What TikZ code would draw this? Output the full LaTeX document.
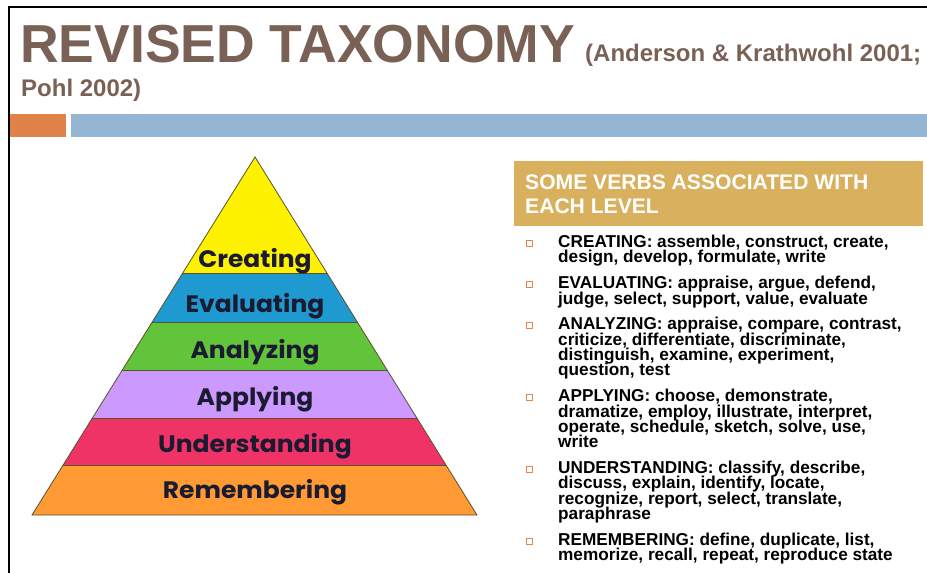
\documentclass[tikz,border=0pt]{standalone}
\usepackage{fontspec}
\setmainfont{Liberation Sans}
\newfontfamily\gothic[FakeStretch=1.05]{Poppins}
\definecolor{titlec}{HTML}{7A6156}
\definecolor{orangebar}{HTML}{E0824A}
\definecolor{bluebar}{HTML}{94B6D3}
\definecolor{goldc}{HTML}{D9B15E}
\definecolor{bulletc}{HTML}{E0884A}
\definecolor{pyrline}{HTML}{5A5030}
\definecolor{lyellow}{HTML}{FFF200}
\definecolor{lblue}{HTML}{1E9AD0}
\definecolor{lgreen}{HTML}{62C43A}
\definecolor{lpurple}{HTML}{CC99FF}
\definecolor{lpink}{HTML}{F03366}
\definecolor{lorange}{HTML}{FF9A35}
\definecolor{lbltext}{HTML}{1A1A30}
\tikzset{
  titletext/.style={anchor=base west, inner sep=0pt, text=titlec, font=\bfseries\fontsize{53.5}{53.5}\selectfont},
  subtext/.style={anchor=base west, inner sep=0pt, text=titlec, font=\bfseries\fontsize{24}{24}\selectfont},
  hdrtext/.style={anchor=base west, inner sep=0pt, text=white, font=\bfseries\fontsize{21.1}{21.1}\selectfont},
  itemtext/.style={anchor=base west, inner sep=0pt, text=black, font=\bfseries\fontsize{17.2}{17.2}\selectfont},
  bulletsq/.style={draw=bulletc, line width=0.7pt, minimum size=6pt, inner sep=0pt, rectangle},
  lvltext/.style={anchor=base, inner sep=0pt, text=lbltext, font=\gothic\bfseries\fontsize{23.8}{23.8}\selectfont},
}
\begin{document}
\begin{tikzpicture}[x=1pt,y=-1pt]
\useasboundingbox (0,0) rectangle (927,573);
\fill[white] (0,0) rectangle (927,573);
% frame
\draw[line width=2pt] (9,573) -- (9,7) -- (927,7);
% title
\node[titletext] (title) at (20,62) {REVISED TAXONOMY};
\node[subtext] (sub1) at (585,61) {(Anderson \& Krathwohl 2001;};
\node[subtext] (sub2) at (21,96) {Pohl 2002)};
% bars
\fill[orangebar] (10,114) rectangle (66,137);
\fill[bluebar] (71,114) rectangle (927,137);
% pyramid
\coordinate (apex) at (255,157);
\coordinate (bl) at (32,515);
\coordinate (br) at (477,515);
\begin{scope}
\clip (apex) -- (br) -- (bl) -- cycle;
\fill[lyellow] (0,150) rectangle (500,273);
\fill[lblue] (0,273) rectangle (500,322);
\fill[lgreen] (0,322) rectangle (500,370);
\fill[lpurple] (0,370) rectangle (500,418);
\fill[lpink] (0,418) rectangle (500,465);
\fill[lorange] (0,465) rectangle (500,516);
\foreach \yy in {273,322,370,418,465}
  \draw[pyrline, line width=0.8pt] (0,\yy) -- (500,\yy);
\end{scope}
\draw[pyrline, line width=0.8pt, line join=miter] (apex) -- (br) -- (bl) -- cycle;
\node[lvltext] (creating) at (255,267) {Creating};
\node[lvltext] (evaluating) at (255,312) {Evaluating};
\node[lvltext] (analyzing) at (255,358) {Analyzing};
\node[lvltext] (applying) at (255,405) {Applying};
\node[lvltext] (understanding) at (255,452) {Understanding};
\node[lvltext] (remembering) at (255,498) {Remembering};
% header box
\fill[goldc] (514,161) rectangle (923,226);
\node[hdrtext] (hdr1) at (525,189) {SOME VERBS ASSOCIATED WITH};
\node[hdrtext] (hdr2) at (525,213) {EACH LEVEL};
% bullets
\foreach \yy [count=\i] in {247.5,288.6,329.7,401.6,473.5,545.4}
  \node[bulletsq] (bul\i) at (529.5,\yy-4.3) {};
% item lines
\foreach \yy/\tx [count=\i] in {
  247.5/{CREATING: assemble, construct, create,},
  262.9/{design, develop, formulate, write},
  288.6/{EVALUATING: appraise, argue, defend,},
  304.0/{judge, select, support, value, evaluate},
  329.7/{ANALYZING: appraise, compare, contrast,},
  345.1/{criticize, differentiate, discriminate,},
  360.5/{distinguish, examine, experiment,},
  375.9/{question, test},
  401.6/{APPLYING: choose, demonstrate,},
  417.0/{dramatize, employ, illustrate, interpret,},
  432.4/{operate, schedule, sketch, solve, use,},
  447.8/{write},
  473.5/{UNDERSTANDING: classify, describe,},
  488.9/{discuss, explain, identify, locate,},
  504.3/{recognize, report, select, translate,},
  519.7/{paraphrase},
  545.4/{REMEMBERING: define, duplicate, list,},
  560.8/{memorize, recall, repeat, reproduce state}}
  \node[itemtext] (line\i) at (558,\yy) {\tx};
\end{tikzpicture}
\end{document}
